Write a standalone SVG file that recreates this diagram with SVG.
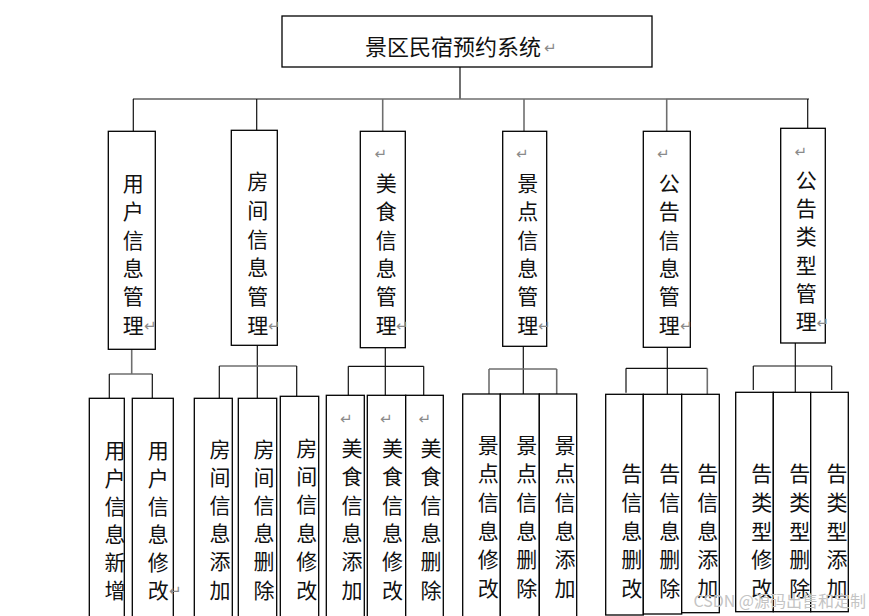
<svg xmlns="http://www.w3.org/2000/svg" width="869" height="616" viewBox="0 0 869 616">
<style>
.box{fill:#fff;stroke:#000;stroke-width:1.3}
.t{font-family:"Noto Sans CJK SC","Noto Sans CJK TC",sans-serif;font-size:21px;fill:#111;text-anchor:middle}
.tt{font-family:"Noto Sans CJK SC",sans-serif;font-size:22px;fill:#111}
.pm{font-family:"DejaVu Sans",sans-serif;font-size:15px;fill:#8a8a8a}
.ln{stroke:#111;stroke-width:1.2;fill:none}
.lg{stroke:#6e6e6e;stroke-width:1.6;fill:none}
.wm{font-family:"Noto Sans CJK SC",sans-serif;font-size:16px;fill:#c4c4c4;text-anchor:end}
</style>
<rect width="869" height="616" fill="#fff"/>
<g id="connectors">
<line class="ln" x1="460" y1="67" x2="460" y2="99"/>
<line class="ln" x1="133" y1="99" x2="280" y2="99"/>
<line class="lg" x1="280" y1="99" x2="666" y2="99"/>
<line class="ln" x1="666" y1="99" x2="809" y2="99"/>
<line class="ln" x1="133.3" y1="99" x2="133.3" y2="131"/>
<line class="ln" x1="256.7" y1="99" x2="256.7" y2="130"/>
<line class="lg" x1="382.7" y1="99" x2="382.7" y2="131"/>
<line class="lg" x1="524" y1="99" x2="524" y2="131"/>
<line class="lg" x1="666.7" y1="99" x2="666.7" y2="131"/>
<line class="ln" x1="807.7" y1="99" x2="807.7" y2="128"/>
<line class="lg" x1="131.7" y1="349" x2="131.7" y2="374"/>
<line class="lg" x1="109.3" y1="374" x2="152.3" y2="374"/>
<line class="ln" x1="109.3" y1="374" x2="109.3" y2="398"/>
<line class="ln" x1="152.3" y1="374" x2="152.3" y2="398"/>
<line class="ln" x1="257.3" y1="345" x2="257.3" y2="398"/>
<line class="lg" x1="219.3" y1="366" x2="296.7" y2="366"/>
<line class="ln" x1="219.3" y1="366" x2="219.3" y2="398"/>
<line class="ln" x1="296.7" y1="366" x2="296.7" y2="396"/>
<line class="ln" x1="385.3" y1="348" x2="385.3" y2="395"/>
<line class="ln" x1="348.3" y1="366.3" x2="423.7" y2="366.3"/>
<line class="ln" x1="348.3" y1="366.3" x2="348.3" y2="395"/>
<line class="ln" x1="423.7" y1="366.3" x2="423.7" y2="395"/>
<line class="ln" x1="523.3" y1="346" x2="523.3" y2="394"/>
<line class="lg" x1="489" y1="369" x2="556.7" y2="369"/>
<line class="lg" x1="489" y1="369" x2="489" y2="394"/>
<line class="lg" x1="556.7" y1="369" x2="556.7" y2="394"/>
<line class="ln" x1="667.3" y1="347" x2="667.3" y2="394"/>
<line class="ln" x1="626" y1="368.3" x2="707.3" y2="368.3"/>
<line class="ln" x1="626" y1="368.3" x2="626" y2="392.7"/>
<line class="lg" x1="707.3" y1="368.3" x2="707.3" y2="394"/>
<line class="ln" x1="795.3" y1="343" x2="795.3" y2="392"/>
<line class="ln" x1="753.3" y1="366" x2="831.7" y2="366"/>
<line class="ln" x1="753.3" y1="366" x2="753.3" y2="390"/>
<line class="ln" x1="831.7" y1="366" x2="831.7" y2="390"/>
</g>
<g id="root">
<rect class="box" x="282" y="16" width="370" height="51"/>
<text class="tt" x="365" y="55">景区民宿预约系统</text>
<text class="pm" x="544" y="53">↵</text>
</g>
<g id="m1">
<rect class="box" x="108.3" y="131.3" width="47" height="218"/>
<text class="t"><tspan x="133.3" y="190.5">用</tspan><tspan x="133.3" y="219">户</tspan><tspan x="133.3" y="247.5">信</tspan><tspan x="133.3" y="275.5">息</tspan><tspan x="133.3" y="304">管</tspan><tspan x="133.3" y="332.5">理</tspan></text>
<text class="pm" x="144" y="331">↵</text>
</g>
<g id="m2">
<rect class="box" x="231.3" y="130.3" width="46" height="215"/>
<text class="t"><tspan x="257.8" y="189">房</tspan><tspan x="257.8" y="218">间</tspan><tspan x="257.8" y="246.5">信</tspan><tspan x="257.8" y="275">息</tspan><tspan x="257.8" y="304">管</tspan><tspan x="257.8" y="332.5">理</tspan></text>
<text class="pm" x="268" y="331">↵</text>
</g>
<g id="m3">
<rect class="box" x="360.3" y="131.3" width="45" height="216.4"/>
<text class="pm" x="374.5" y="159">↵</text>
<text class="t"><tspan x="386.3" y="190.5">美</tspan><tspan x="386.3" y="219">食</tspan><tspan x="386.3" y="247.5">信</tspan><tspan x="386.3" y="275.5">息</tspan><tspan x="386.3" y="304">管</tspan><tspan x="386.3" y="332.5">理</tspan></text>
<text class="pm" x="396" y="331">↵</text>
</g>
<g id="m4">
<rect class="box" x="502.7" y="131.3" width="44" height="215"/>
<text class="pm" x="516" y="159">↵</text>
<text class="t"><tspan x="527.8" y="190.5">景</tspan><tspan x="527.8" y="219">点</tspan><tspan x="527.8" y="247.5">信</tspan><tspan x="527.8" y="275.5">息</tspan><tspan x="527.8" y="304">管</tspan><tspan x="527.8" y="332.5">理</tspan></text>
<text class="pm" x="538" y="331">↵</text>
</g>
<g id="m5">
<rect class="box" x="643.3" y="131.3" width="47" height="216"/>
<text class="pm" x="657" y="159">↵</text>
<text class="t"><tspan x="669.2" y="190.5">公</tspan><tspan x="669.2" y="219">告</tspan><tspan x="669.2" y="247.5">信</tspan><tspan x="669.2" y="275.5">息</tspan><tspan x="669.2" y="304">管</tspan><tspan x="669.2" y="332.5">理</tspan></text>
<text class="pm" x="680" y="331">↵</text>
</g>
<g id="m6">
<rect class="box" x="780.7" y="128.3" width="44.6" height="214.7"/>
<text class="pm" x="794.5" y="156.5">↵</text>
<text class="t"><tspan x="806.3" y="187.5">公</tspan><tspan x="806.3" y="216">告</tspan><tspan x="806.3" y="244">类</tspan><tspan x="806.3" y="272.5">型</tspan><tspan x="806.3" y="301">管</tspan><tspan x="806.3" y="329">理</tspan></text>
<text class="pm" x="816.5" y="327.5">↵</text>
</g>
<g id="b1">
<rect class="box" x="89.3" y="398.3" width="35" height="230"/>
<text class="t"><tspan x="115" y="457.5">用</tspan><tspan x="115" y="485.5">户</tspan><tspan x="115" y="513.5">信</tspan><tspan x="115" y="541.5">息</tspan><tspan x="115" y="569.5">新</tspan><tspan x="115" y="597.5">增</tspan></text>
</g>
<g id="b2">
<rect class="box" x="132.3" y="398.3" width="41" height="230"/>
<text class="t"><tspan x="158.3" y="457.5">用</tspan><tspan x="158.3" y="485.5">户</tspan><tspan x="158.3" y="513.5">信</tspan><tspan x="158.3" y="541.5">息</tspan><tspan x="158.3" y="569.5">修</tspan><tspan x="158.3" y="597.5">改</tspan></text>
<text class="pm" x="169" y="596">↵</text>
</g>
<g id="b3">
<rect class="box" x="194.3" y="398.3" width="38" height="230"/>
<text class="t"><tspan x="220" y="456.5">房</tspan><tspan x="220" y="485">间</tspan><tspan x="220" y="513">信</tspan><tspan x="220" y="541">息</tspan><tspan x="220" y="569">添</tspan><tspan x="220" y="597.5">加</tspan></text>
</g>
<g id="b4">
<rect class="box" x="238.3" y="398.3" width="38.4" height="230"/>
<text class="t"><tspan x="264" y="456.5">房</tspan><tspan x="264" y="485">间</tspan><tspan x="264" y="513">信</tspan><tspan x="264" y="541">息</tspan><tspan x="264" y="569">删</tspan><tspan x="264" y="597.5">除</tspan></text>
</g>
<g id="b5">
<rect class="box" x="280.3" y="396.3" width="38.4" height="232"/>
<text class="t"><tspan x="306.7" y="455.5">房</tspan><tspan x="306.7" y="484">间</tspan><tspan x="306.7" y="512">信</tspan><tspan x="306.7" y="540.5">息</tspan><tspan x="306.7" y="569">修</tspan><tspan x="306.7" y="597.5">改</tspan></text>
</g>
<g id="b6">
<rect class="box" x="326.3" y="395.3" width="38" height="233"/>
<text class="pm" x="340" y="424">↵</text>
<text class="t"><tspan x="352" y="455.5">美</tspan><tspan x="352" y="484">食</tspan><tspan x="352" y="512.5">信</tspan><tspan x="352" y="540.5">息</tspan><tspan x="352" y="569">添</tspan><tspan x="352" y="597.5">加</tspan></text>
</g>
<g id="b7">
<rect class="box" x="367.3" y="395.3" width="38.4" height="233"/>
<text class="pm" x="380" y="424">↵</text>
<text class="t"><tspan x="392.5" y="455.5">美</tspan><tspan x="392.5" y="484">食</tspan><tspan x="392.5" y="512.5">信</tspan><tspan x="392.5" y="540.5">息</tspan><tspan x="392.5" y="569">修</tspan><tspan x="392.5" y="597.5">改</tspan></text>
</g>
<g id="b8">
<rect class="box" x="405.7" y="395.3" width="37.6" height="233"/>
<text class="pm" x="418.5" y="424">↵</text>
<text class="t"><tspan x="431" y="455.5">美</tspan><tspan x="431" y="484">食</tspan><tspan x="431" y="512.5">信</tspan><tspan x="431" y="540.5">息</tspan><tspan x="431" y="569">删</tspan><tspan x="431" y="597.5">除</tspan></text>
</g>
<g id="b9">
<rect class="box" x="462.7" y="394" width="37.6" height="234"/>
<text class="t"><tspan x="488.3" y="452.5">景</tspan><tspan x="488.3" y="481">点</tspan><tspan x="488.3" y="510">信</tspan><tspan x="488.3" y="538.5">息</tspan><tspan x="488.3" y="567">修</tspan><tspan x="488.3" y="595.5">改</tspan></text>
</g>
<g id="b10">
<rect class="box" x="500.3" y="394" width="39" height="234"/>
<text class="t"><tspan x="526.7" y="452.5">景</tspan><tspan x="526.7" y="481">点</tspan><tspan x="526.7" y="510">信</tspan><tspan x="526.7" y="538.5">息</tspan><tspan x="526.7" y="567">删</tspan><tspan x="526.7" y="595.5">除</tspan></text>
</g>
<g id="b11">
<rect class="box" x="539.3" y="394" width="37.4" height="234"/>
<text class="t"><tspan x="565" y="452.5">景</tspan><tspan x="565" y="481">点</tspan><tspan x="565" y="510">信</tspan><tspan x="565" y="538.5">息</tspan><tspan x="565" y="567">添</tspan><tspan x="565" y="595.5">加</tspan></text>
</g>
<g id="b12">
<rect class="box" x="605.7" y="394.3" width="37.6" height="220.7"/>
<text class="t"><tspan x="631.7" y="481">告</tspan><tspan x="631.7" y="510">信</tspan><tspan x="631.7" y="538.5">息</tspan><tspan x="631.7" y="567">删</tspan><tspan x="631.7" y="595.5">改</tspan></text>
</g>
<g id="b13">
<rect class="box" x="643.3" y="394.3" width="38.4" height="219.7"/>
<text class="t"><tspan x="669.7" y="481">告</tspan><tspan x="669.7" y="510">信</tspan><tspan x="669.7" y="538.5">息</tspan><tspan x="669.7" y="567">删</tspan><tspan x="669.7" y="595.5">除</tspan></text>
</g>
<g id="b14">
<rect class="box" x="681.7" y="394.3" width="37.6" height="218.4"/>
<text class="t"><tspan x="707.8" y="481">告</tspan><tspan x="707.8" y="510">信</tspan><tspan x="707.8" y="538.5">息</tspan><tspan x="707.8" y="567">添</tspan><tspan x="707.8" y="595.5">加</tspan></text>
</g>
<g id="b15">
<rect class="box" x="735.7" y="392.3" width="37.6" height="219.4"/>
<text class="t"><tspan x="761.7" y="481">告</tspan><tspan x="761.7" y="510">类</tspan><tspan x="761.7" y="538.5">型</tspan><tspan x="761.7" y="567">修</tspan><tspan x="761.7" y="595.5">改</tspan></text>
</g>
<g id="b16">
<rect class="box" x="773.3" y="392.3" width="37.4" height="219.4"/>
<text class="t"><tspan x="799.7" y="481">告</tspan><tspan x="799.7" y="510">类</tspan><tspan x="799.7" y="538.5">型</tspan><tspan x="799.7" y="567">删</tspan><tspan x="799.7" y="595.5">除</tspan></text>
</g>
<g id="b17">
<rect class="box" x="810.7" y="392.3" width="37.6" height="219.4"/>
<text class="t"><tspan x="837" y="481">告</tspan><tspan x="837" y="510">类</tspan><tspan x="837" y="538.5">型</tspan><tspan x="837" y="567">添</tspan><tspan x="837" y="595.5">加</tspan></text>
</g>
<text class="wm" x="866" y="607">CSDN @源码出售和定制</text>
</svg>
